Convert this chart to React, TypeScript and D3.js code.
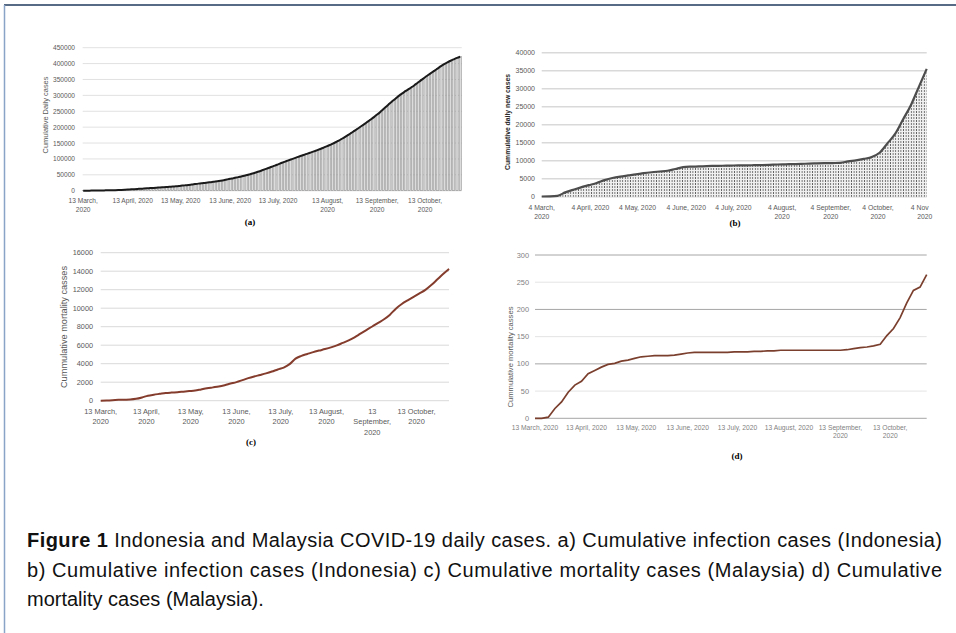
import React from 'react';
import * as d3 from 'd3';

// ---------------- data ----------------
// (a) Cumulative infection cases (Indonesia), every 2 days from 13 March 2020
const aStartDate = '2020-03-13';
const aStepDays = 2;
const aCumulativeCases = [
  69, 120, 170, 310, 450, 580, 790, 1050, 1290, 1530,
  1790, 2090, 2490, 2960, 3510, 4240, 4840, 5520, 6250, 6760,
  7420, 8210, 8880, 9510, 10120, 10840, 11590, 12440, 13110, 14030,
  14750, 16010, 17030, 18010, 19190, 20800, 22270, 23170, 24540, 25770,
  26940, 28230, 29520, 31190, 33080, 35300, 37420, 39300, 41430, 43800,
  46000, 48500, 51200, 54000, 57200, 60500, 64200, 67900, 71600, 75300,
  79000, 83000, 87000, 90800, 94500, 98200, 101900, 105500, 109000, 112500,
  116000, 119500, 123000, 126700, 130500, 134500, 138700, 143000, 147600, 152500,
  157800, 163500, 169500, 175800, 182300, 189000, 195800, 202700, 209700, 216800,
  224000, 231500, 239500, 248000, 257000, 266000, 275000, 283500, 292000, 300000,
  307000, 314000, 320600, 327000, 334500, 342000, 349500, 357000, 364000, 371000,
  378000, 385000, 392000, 398500, 404000, 409000, 413500, 417800, 421700,
];
const aYTicks = [0, 50000, 100000, 150000, 200000, 250000, 300000, 350000, 400000, 450000];
const aXTickDates = ['2020-03-13', '2020-04-13', '2020-05-13', '2020-06-13', '2020-07-13', '2020-08-13', '2020-09-13', '2020-10-13'];
const aXTickLabels = [
  ['13 March,', '2020'], ['13 April, 2020'], ['13 May, 2020'], ['13 June, 2020'],
  ['13 July, 2020'], ['13 August,', '2020'], ['13 September,', '2020'], ['13 October,', '2020'],
];
const aYTitle = 'Cumulative Daily cases';

// (b) Cumulative daily new cases, every 5 days from 4 March 2020
const bStartDate = '2020-03-04';
const bStepDays = 5;
const bCumulativeCases = [
  50, 93, 250, 1200, 1900, 2600, 3200, 3800, 4600, 5200,
  5600, 5900, 6200, 6550, 6800, 7000, 7200, 7700, 8200, 8350,
  8400, 8500, 8550, 8600, 8650, 8700, 8720, 8750, 8780, 8850,
  8950, 9000, 9050, 9100, 9200, 9250, 9300, 9350, 9400, 9800,
  10100, 10500, 11000, 12200, 14800, 17500, 21500, 25500, 30500, 35500,
];
const bYTicks = [0, 5000, 10000, 15000, 20000, 25000, 30000, 35000, 40000];
const bXTickDates = ['2020-03-04', '2020-04-04', '2020-05-04', '2020-06-04', '2020-07-04', '2020-08-04', '2020-09-04', '2020-10-04', '2020-11-04'];
const bXTickLabels = [
  ['4 March,', '2020'], ['4 April, 2020'], ['4 May, 2020'], ['4 June, 2020'], ['4 July, 2020'],
  ['4 August,', '2020'], ['4 September,', '2020'], ['4 October,', '2020'], ['4 Nov', '2020'],
];
const bYTitle = 'Cummulative daily new cases';

// (c) Cumulative mortality cases, every 4 days from 13 March 2020
const cStartDate = '2020-03-13';
const cStepDays = 4;
const cCumulativeDeaths = [
  5, 20, 50, 90, 110, 130, 200, 350, 540, 650,
  740, 830, 880, 920, 980, 1040, 1100, 1220, 1340, 1440,
  1540, 1680, 1850, 2010, 2220, 2440, 2620, 2780, 2950, 3150,
  3380, 3580, 3950, 4550, 4850, 5050, 5250, 5420, 5580, 5760,
  5980, 6250, 6520, 6850, 7250, 7640, 8020, 8420, 8800, 9300,
  9950, 10450, 10850, 11230, 11600, 11980, 12500, 13100, 13700, 14250,
];
const cYTicks = [0, 2000, 4000, 6000, 8000, 10000, 12000, 14000, 16000];
const cXTickDates = aXTickDates;
const cXTickLabels = [
  ['13 March,', '2020'], ['13 April,', '2020'], ['13 May,', '2020'], ['13 June,', '2020'],
  ['13 July,', '2020'], ['13 August,', '2020'], ['13', 'September,', '2020'], ['13 October,', '2020'],
];
const cYTitle = 'Cummulative mortality casses';

// (d) Cumulative mortality cases, every 4 days from 13 March 2020
const dStartDate = '2020-03-13';
const dStepDays = 4;
const dCumulativeDeaths = [
  0, 0, 2, 18, 30, 48, 61, 68, 82, 88,
  94, 99, 101, 105, 107, 110, 113, 114, 115, 115,
  115, 116, 118, 120, 121, 121, 121, 121, 121, 121,
  122, 122, 122, 123, 123, 124, 124, 125, 125, 125,
  125, 125, 125, 125, 125, 125, 125, 126, 128, 130,
  131, 133, 136, 152, 165, 185, 212, 235, 241, 264,
];
const dYTicks = [0, 50, 100, 150, 200, 250, 300];
const dXTickDates = aXTickDates;
const dXTickLabels = [
  ['13 March, 2020'], ['13 April, 2020'], ['13 May, 2020'], ['13 June, 2020'],
  ['13 July, 2020'], ['13 August, 2020'], ['13 September,', '2020'], ['13 October,', '2020'],
];
const dYTitle = 'Cummulative mortality casses';

const panelLabels = ['(a)', '(b)', '(c)', '(d)'];
const captionTitle = 'Figure 1';
const captionLines = [
  'Indonesia and Malaysia COVID-19 daily cases. a) Cumulative infection cases (Indonesia)',
  'b) Cumulative infection cases (Indonesia) c) Cumulative mortality cases (Malaysia) d) Cumulative',
  'mortality cases (Malaysia).',
];

// ---------------- helpers ----------------
const parse = d3.utcParse('%Y-%m-%d');
type Pt = { date: Date; v: number };
function series(start: string, step: number, values: number[]): Pt[] {
  const s = parse(start) as Date;
  return values.map((v, i) => ({ date: d3.utcDay.offset(s, i * step), v }));
}

const SANS = "'Liberation Sans', Arial, sans-serif";
const SERIF = "'Liberation Serif', 'Times New Roman', serif";
const TICK = '#595959';

type Box = { x0: number; x1: number; yTop: number; yBot: number };

function YAxis({ y, ticks, box, tickX, fs, color, gridColor, gridW, minorColor, baseColor }: any) {
  return (
    <g>
      {ticks.map((t: number, i: number) => {
        let c = gridColor;
        if (minorColor && i % 2 === 1) c = minorColor;
        if (t === 0 && baseColor) c = baseColor;
        return (
          <g key={t}>
            <line x1={box.x0} x2={box.x1} y1={y(t)} y2={y(t)} stroke={c} strokeWidth={gridW} />
            <text x={tickX} y={y(t)} fontSize={fs} fill={color} textAnchor="end" dominantBaseline="central" fontFamily={SANS}>{t}</text>
          </g>
        );
      })}
    </g>
  );
}

function XLabels({ x, dates, labels, y0, dy, fs, color, shifts }: any) {
  return (
    <g>
      {dates.map((d: string, i: number) => {
        const px = x(parse(d) as Date);
        return labels[i].map((ln: string, j: number) => (
          <text key={i + '-' + j} x={px + (shifts && shifts[i] ? shifts[i][j] : 0)} y={y0 + j * dy} fontSize={fs} fill={color}
            textAnchor="middle" dominantBaseline="central" fontFamily={SANS}>{ln}</text>
        ));
      })}
    </g>
  );
}

function YTitle({ x, y, text, fs, bold }: any) {
  return (
    <text transform={`translate(${x},${y}) rotate(-90)`} fontSize={fs} fill={bold ? '#262626' : TICK}
      fontWeight={bold ? 'bold' : 'normal'} textAnchor="middle" dominantBaseline="central" fontFamily={SANS}>{text}</text>
  );
}

function PanelLabel({ x, y, text }: any) {
  return (
    <text x={x} y={y} fontSize={9} fontWeight="bold" textAnchor="middle" dominantBaseline="central" fontFamily={SERIF}>{text}</text>
  );
}

function PanelA() {
  const data = series(aStartDate, aStepDays, aCumulativeCases);
  const box: Box = { x0: 82.7, x1: 461.7, yTop: 47.7, yBot: 190.7 };
  const x = d3.scaleUtc().domain([data[0].date, data[data.length - 1].date]).range([box.x0 + 0.5, box.x1 - 1.5]);
  const y = d3.scaleLinear().domain([0, 450000]).range([box.yBot, box.yTop]);
  const line = d3.line<Pt>().x(d => x(d.date)).y(d => y(d.v)).curve(d3.curveMonotoneX);
  return (
    <g>
      <YAxis y={y} ticks={aYTicks} box={box} tickX={75} fs={6.6} color={TICK} gridColor="#d9d9d9" gridW={0.8} baseColor="#bfbfbf" />
      {data.map((d, i) => (
        <rect key={i} x={x(d.date) - 1.1} width={2.2} y={y(d.v)} height={Math.max(0, y(0) - y(d.v))}
          fill="#dcdcdc" stroke="#666" strokeWidth={0.4} />
      ))}
      <path d={line(data) || ''} fill="none" stroke="#1a1a1a" strokeWidth={2} />
      <XLabels x={x} dates={aXTickDates} labels={aXTickLabels} y0={200.7} dy={8.5} fs={6.6} color={TICK} />
      <YTitle x={45} y={115} text={aYTitle} fs={7.4} />
      <PanelLabel x={250} y={222} text={panelLabels[0]} />
    </g>
  );
}

function PanelB() {
  const data = series(bStartDate, bStepDays, bCumulativeCases);
  const box: Box = { x0: 541.7, x1: 926.7, yTop: 52.7, yBot: 196.7 };
  const x = d3.scaleUtc().domain([data[0].date, data[data.length - 1].date]).range([box.x0, box.x1]);
  const y = d3.scaleLinear().domain([0, 40000]).range([box.yBot, box.yTop]);
  const line = d3.line<Pt>().x(d => x(d.date)).y(d => y(d.v)).curve(d3.curveMonotoneX);
  const area = d3.area<Pt>().x(d => x(d.date)).y0(y(0)).y1(d => y(d.v)).curve(d3.curveMonotoneX);
  return (
    <g>
      <defs>
        <pattern id="dashV" width={2.6} height={3} patternUnits="userSpaceOnUse">
          <rect width={2.6} height={3} fill="#f0f0f0" />
          <line x1={1.3} y1={0} x2={1.3} y2={2} stroke="#4a4a4a" strokeWidth={0.8} />
        </pattern>
      </defs>
      <YAxis y={y} ticks={bYTicks} box={box} tickX={535} fs={7} color={TICK} gridColor="#d9d9d9" gridW={1.4} />
      <path d={area(data) || ''} fill="url(#dashV)" />
      <path d={line(data) || ''} fill="none" stroke="#4d4d4d" strokeWidth={2.2} />
      <XLabels x={x} dates={bXTickDates} labels={bXTickLabels} y0={207} dy={9} fs={6.8} color={TICK}
        shifts={[null, null, null, null, null, null, null, null, [-7, -2]]} />
      <YTitle x={507} y={122} text={bYTitle} fs={6.8} bold />
      <PanelLabel x={735} y={223} text={panelLabels[1]} />
    </g>
  );
}

function PanelC() {
  const data = series(cStartDate, cStepDays, cCumulativeDeaths);
  const box: Box = { x0: 100.7, x1: 449, yTop: 252.7, yBot: 400.7 };
  const x = d3.scaleUtc().domain([data[0].date, data[data.length - 1].date]).range([box.x0, box.x1]);
  const y = d3.scaleLinear().domain([0, 16000]).range([box.yBot, box.yTop]);
  const line = d3.line<Pt>().x(d => x(d.date)).y(d => y(d.v)).curve(d3.curveMonotoneX);
  return (
    <g>
      <YAxis y={y} ticks={cYTicks} box={box} tickX={93} fs={7.3} color={TICK} gridColor="#d9d9d9" gridW={1} />
      <path d={line(data) || ''} fill="none" stroke="#843c2c" strokeWidth={2} />
      <XLabels x={x} dates={cXTickDates} labels={cXTickLabels} y0={411} dy={10.8} fs={7.4} color={TICK} />
      <YTitle x={63.5} y={327} text={cYTitle} fs={9.2} />
      <PanelLabel x={251} y={442} text={panelLabels[2]} />
    </g>
  );
}

function PanelD() {
  const data = series(dStartDate, dStepDays, dCumulativeDeaths);
  const box: Box = { x0: 535, x1: 926.7, yTop: 255, yBot: 418.3 };
  const x = d3.scaleUtc().domain([data[0].date, data[data.length - 1].date]).range([box.x0, box.x1]);
  const y = d3.scaleLinear().domain([0, 300]).range([box.yBot, box.yTop]);
  const line = d3.line<Pt>().x(d => x(d.date)).y(d => y(d.v));
  return (
    <g>
      <YAxis y={y} ticks={dYTicks} box={box} tickX={529} fs={7.4} color="#7f7f7f" gridColor="#a6a6a6" gridW={1}
        minorColor="#e4e4e4" baseColor="#a6a6a6" />
      <path d={line(data) || ''} fill="none" stroke="#7b3f2e" strokeWidth={1.7} />
      <XLabels x={x} dates={dXTickDates} labels={dXTickLabels} y0={427.7} dy={8.2} fs={6.7} color="#7f7f7f" />
      <YTitle x={510} y={357} text={dYTitle} fs={7.6} />
      <PanelLabel x={737} y={456} text={panelLabels[3]} />
    </g>
  );
}

export default function App() {
  return (
    <svg width={956} height={633} viewBox="0 0 956 633"
      style={{ position: 'absolute', left: 0, top: 0, display: 'block', background: '#fff' }}>
      <rect x={0} y={0} width={956} height={633} fill="#fff" />
      <line x1={4} x2={956} y1={5} y2={5} stroke="#1f3a5f" strokeWidth={1.5} />
      <line x1={4.5} x2={4.5} y1={5} y2={633} stroke="#8aa4c8" strokeWidth={1.5} />
      <PanelA />
      <PanelB />
      <PanelC />
      <PanelD />
      <g fontFamily={SANS} fontSize={20} fill="#111">
        <text x={27} y={547} textLength={915} lengthAdjust="spacing">
          <tspan fontWeight="bold">{captionTitle}</tspan>{' ' + captionLines[0]}
        </text>
        <text x={27} y={577} textLength={915} lengthAdjust="spacing">{captionLines[1]}</text>
        <text x={27} y={606}>{captionLines[2]}</text>
      </g>
    </svg>
  );
}
